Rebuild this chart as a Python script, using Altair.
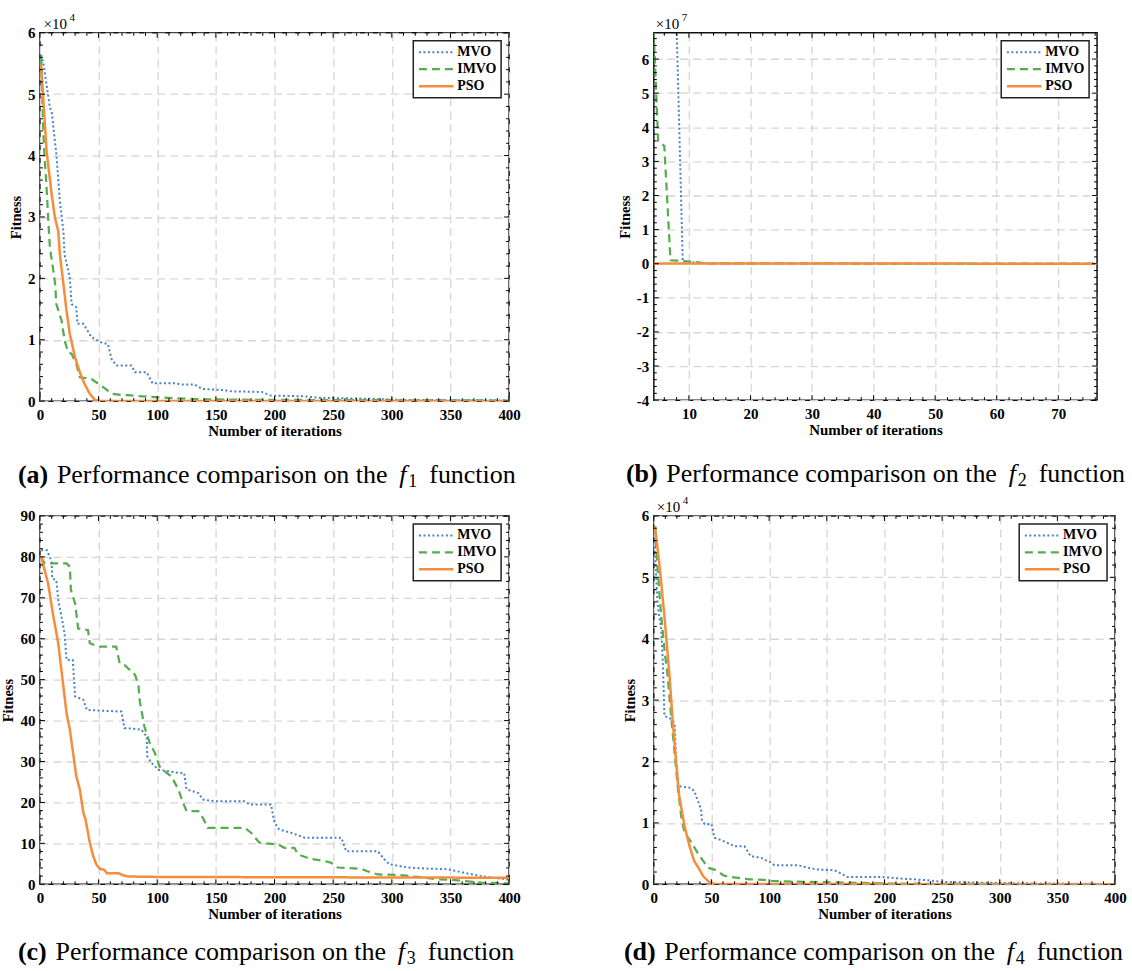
import altair as alt
import pandas as pd

FONT = "Liberation Serif"
NAMES = ["MVO", "IMVO", "PSO"]
COLORS = ["#4682c8", "#55ad4e", "#f68d3c"]
DASHES = [[2, 2.5], [8, 5], [1, 0]]
WIDTHS = [2, 2.5, 2.5]

# ---------------- panel (a): f1, fitness in units of 1e4 ----------------
MVO_A_IT = [1, 3, 8.5, 10, 14, 17, 20, 21, 25.5, 27, 31, 32, 37, 44, 52, 58, 61, 65, 78, 81,
            91, 96, 115, 122, 132, 138, 157, 163, 189, 197, 223, 240, 279, 299, 308, 400]
MVO_A = [5.64, 5.5, 4.78, 4.72, 4.02, 3.26, 2.77, 2.39, 2.01, 1.58, 1.53, 1.26, 1.26, 1.04, 0.96,
         0.93, 0.69, 0.58, 0.58, 0.47, 0.47, 0.29, 0.29, 0.27, 0.27, 0.2, 0.18, 0.16, 0.15, 0.09,
         0.08, 0.054, 0.04, 0.03, 0.02, 0.01]
IMVO_A_IT = [1, 3, 4, 5.5, 7, 8.5, 11, 13, 14, 18.5, 21, 24, 27, 31, 34, 44, 50, 53, 58, 62, 70,
             75, 84, 98, 109, 138, 194, 400]
IMVO_A = [5.6, 4.34, 3.96, 3.53, 2.99, 2.5, 2.18, 1.9, 1.58, 1.31, 0.99, 0.8, 0.77, 0.61, 0.39,
          0.36, 0.28, 0.24, 0.17, 0.12, 0.1, 0.1, 0.08, 0.065, 0.054, 0.03, 0.02, 0.01]
PSO_A_IT = [1, 3, 5.7, 10, 12.8, 15.6, 17, 20, 22.7, 25.5, 30, 34, 38, 42.5, 47, 51, 400]
PSO_A = [5.48, 4.88, 4.07, 3.37, 2.99, 2.77, 2.39, 1.91, 1.47, 1.09, 0.71, 0.47, 0.28, 0.12,
         0.02, 0.003, 0.0]

# ---------------- panel (b): f2, fitness in units of 1e7 ----------------
MVO_B_IT = [4, 8, 9, 10, 12, 14, 76]
MVO_B = [9.0, 6.9, 0.06, 0.05, 0.02, 0.005, 0.0]
IMVO_B_IT = [4, 5, 6, 7, 8, 9, 11, 13, 76]
IMVO_B = [8.0, 3.6, 3.45, 0.1, 0.09, 0.08, 0.05, 0.01, 0.0]
PSO_B_IT = [4, 76]
PSO_B = [0.01, 0.0]

# ---------------- panel (c): f3 ----------------
MVO_C_IT = [1, 6, 10, 10.5, 14, 15.6, 18.4, 21, 22.7, 28, 30, 37, 40, 69.5, 72, 86.5, 91, 91.5,
            95, 101, 119, 123, 125, 135, 139, 149, 174, 179, 197, 200, 204, 214, 225.5, 257, 261,
            288, 293.6, 298, 313.5, 333, 347.5, 362, 376, 400]
MVO_C = [81.6, 81.6, 78.8, 74.7, 74.3, 69.5, 65.4, 61.3, 54.8, 54.8, 45.9, 45.1, 42.6, 42.2, 38.2,
         37.8, 36.1, 31.3, 29.7, 28.0, 27.2, 27.2, 23.2, 22.3, 20.7, 20.3, 20.3, 19.5, 19.5, 15.0,
         13.4, 12.6, 11.4, 11.4, 8.1, 8.1, 6.1, 4.9, 4.1, 3.8, 3.7, 2.8, 2.0, 1.1]
IMVO_C_IT = [1, 4, 22.7, 25.5, 26.4, 30, 32.6, 41, 42.5, 49.6, 65, 68, 72, 81, 84, 85, 89, 93.6,
             98, 102, 108, 112, 118, 122, 125, 135, 139, 143, 174.5, 180, 187, 203, 208.5, 217,
             220, 228, 234, 242.5, 248, 254, 274, 279, 288, 305, 322, 339, 350, 362, 376, 400]
IMVO_C = [80, 78.4, 78.4, 77.6, 71.9, 68.6, 62.5, 62.1, 58.9, 58.1, 58.1, 54, 53.6, 51.2, 48.7,
          45, 38.6, 34.5, 32.1, 28.8, 27.2, 26.4, 23.2, 19.9, 17.9, 17.9, 16.2, 13.8, 13.8, 12.6,
          10.2, 9.7, 8.9, 8.9, 7.3, 6.5, 6.1, 5.7, 5.3, 4.1, 3.8, 3.2, 2.4, 2.3, 1.8, 1.2, 1.1,
          0.8, 0.4, 0.2]
PSO_C_IT = [1, 7, 11, 15.6, 20, 22.7, 25.5, 31, 34, 37, 38.9, 42.5, 45.4, 48, 51, 55, 57, 67, 71,
            75, 101, 400]
PSO_C = [80, 73.5, 66.2, 58.9, 48.3, 41.8, 37.8, 26.4, 23.2, 17.5, 15.8, 10.2, 6.9, 4.9, 3.8, 3.5,
         2.7, 2.7, 2.2, 1.9, 1.8, 1.6]

# ---------------- panel (d): f4, fitness in units of 1e4 ----------------
MVO_D_IT = [1, 2, 3.5, 6.4, 7.8, 9.2, 13.6, 18, 19.4, 21, 32, 35, 41, 41.5, 44, 50, 52.6, 61, 70,
            78.6, 84, 93, 102, 104.6, 125, 133.5, 142, 156.6, 168, 197, 217, 235, 249, 275, 318,
            400]
MVO_D = [5.5, 5.01, 4.53, 4.15, 3.6, 2.74, 2.71, 2.63, 1.98, 1.6, 1.57, 1.52, 1.22, 1.06, 0.98,
         0.98, 0.76, 0.7, 0.62, 0.62, 0.46, 0.43, 0.35, 0.31, 0.31, 0.27, 0.24, 0.23, 0.12, 0.12,
         0.09, 0.07, 0.04, 0.03, 0.016, 0.005]
IMVO_D_IT = [1, 3.5, 6.4, 9.2, 12, 15, 18, 21, 23.7, 26.6, 32, 38, 44, 47, 52.6, 61, 67, 78.6, 84,
             96, 102, 131, 160, 217, 400]
IMVO_D = [5.83, 5.07, 4.36, 3.82, 3.39, 2.74, 2.14, 1.54, 1.11, 0.84, 0.7, 0.51, 0.35, 0.27,
          0.24, 0.14, 0.12, 0.09, 0.08, 0.07, 0.054, 0.04, 0.03, 0.01, 0.0]
PSO_D_IT = [1, 5, 9.2, 13.6, 16.5, 19.4, 22, 26.6, 31, 35, 39.6, 42.5, 47, 52.6, 400]
PSO_D = [5.83, 5.18, 4.36, 3.39, 2.63, 1.98, 1.44, 0.95, 0.62, 0.38, 0.24, 0.14, 0.05, 0.005, 0.0]

# axis ticks
X400_MAJOR = [0, 50, 100, 150, 200, 250, 300, 350, 400]
X400_MINOR = [v for v in range(10, 400, 10) if v % 50]
XB_MAJOR = [10, 20, 30, 40, 50, 60, 70]
XB_MINOR = [v for v in range(6, 77, 2) if v % 10]
Y6_MAJOR = [0, 1, 2, 3, 4, 5, 6]
Y6_MINOR = [round(i * 0.2, 3) for i in range(1, 30) if i % 5]
YB_MAJOR = [-4, -3, -2, -1, 0, 1, 2, 3, 4, 5, 6]
YB_MINOR = [round(-4 + i * 0.2, 3) for i in range(1, 54) if i % 5]
Y90_MAJOR = [0, 10, 20, 30, 40, 50, 60, 70, 80, 90]
Y90_MINOR = [v for v in range(2, 90, 2) if v % 10]

ONE = pd.DataFrame({"k": [0]})


def txt(text, x, y, size, weight="normal", style="normal"):
    return alt.Chart(ONE).mark_text(
        text=text, align="left", baseline="alphabetic", fontSize=size,
        fontWeight=weight, fontStyle=style, font=FONT, color="black"
    ).encode(x=alt.value(x), y=alt.value(y))


LETTER_W = {"a": 500, "b": 556, "c": 444, "d": 556}


def panel(series, xdom, ydom, xmaj, xmin, ymaj, ymin, W, H, letter, sub, cap_dx, cap_dy,
          mult=None, mult_dx=3.7):
    rows = []
    for name, its, vals in series:
        for i, v in zip(its, vals):
            rows.append({"series": name, "it": i, "val": v})
    df = pd.DataFrame(rows)
    xs = alt.Scale(domain=xdom, nice=False, zero=False)
    ys = alt.Scale(domain=ydom, nice=False, zero=False)
    xaxis = alt.Axis(
        values=xmaj, grid=True, ticks=False, tickSize=0, domain=False,
        labelFlush=False, labelOverlap=False, labelPadding=6,
        labelFontSize=15, labelFontWeight="bold",
        title="Number of iterations", titleFontSize=15, titleFontWeight="bold",
        titlePadding=1)
    yaxis = alt.Axis(
        values=ymaj, grid=True, ticks=False, tickSize=0, domain=False,
        labelFlush=False, labelOverlap=False, labelPadding=5,
        labelFontSize=15, labelFontWeight="bold", labelExpr="'' + datum.value",
        title="Fitness", titleFontSize=14.5, titleFontWeight="bold", titlePadding=4)
    leg = alt.Legend(title=None, orient="top-right", offset=8, clipHeight=15)
    lines = alt.Chart(df).mark_line(clip=True).encode(
        x=alt.X("it:Q", scale=xs, axis=xaxis),
        y=alt.Y("val:Q", scale=ys, axis=yaxis),
        color=alt.Color("series:N", scale=alt.Scale(domain=NAMES, range=COLORS), legend=leg),
        strokeDash=alt.StrokeDash("series:N", scale=alt.Scale(domain=NAMES, range=DASHES),
                                  legend=leg),
        strokeWidth=alt.StrokeWidth("series:N", scale=alt.Scale(domain=NAMES, range=WIDTHS),
                                    legend=None),
    )
    layers = [lines]

    def xt(vals, top, L):
        d = pd.DataFrame({"it": vals})
        return alt.Chart(d).mark_rule(color="black", strokeWidth=1).encode(
            x=alt.X("it:Q", scale=xs, axis=xaxis),
            y=alt.value(0 if top else H), y2=alt.value(L if top else H - L))

    def yt(vals, right, L):
        d = pd.DataFrame({"val": vals})
        return alt.Chart(d).mark_rule(color="black", strokeWidth=1).encode(
            y=alt.Y("val:Q", scale=ys, axis=yaxis),
            x=alt.value(W if right else 0), x2=alt.value(W - L if right else L))

    for top in (False, True):
        layers.append(xt(xmaj, top, 5))
        layers.append(xt(xmin, top, 3))
    for right in (False, True):
        layers.append(yt(ymaj, right, 5))
        layers.append(yt(ymin, right, 3))

    if mult is not None:
        layers.append(txt("×10", mult_dx, -3.7, 15))
        layers.append(txt(mult, mult_dx + 26, -12, 11))

    lab_w = (666 + LETTER_W[letter]) * 26 / 1000
    main_x = cap_dx + lab_w + 8.7
    cy = H + cap_dy
    layers += [
        txt("(" + letter + ")", cap_dx, cy, 26, weight="bold"),
        txt("Performance comparison on the", main_x, cy, 26),
        txt("f", main_x + 343, cy, 26, style="italic"),
        txt(sub, main_x + 352, cy + 4, 18),
        txt("function", main_x + 373, cy, 26),
    ]
    return alt.layer(*layers).properties(width=W, height=H)


pa = panel([("MVO", MVO_A_IT, MVO_A), ("IMVO", IMVO_A_IT, IMVO_A), ("PSO", PSO_A_IT, PSO_A)],
           [0, 400], [0, 6], X400_MAJOR, X400_MINOR, Y6_MAJOR, Y6_MINOR, 470, 369,
           "a", "1", -22, 82, mult="4")
pb = panel([("MVO", MVO_B_IT, MVO_B), ("IMVO", IMVO_B_IT, IMVO_B), ("PSO", PSO_B_IT, PSO_B)],
           [4.3, 76.3], [-4, 6.77], XB_MAJOR, XB_MINOR, YB_MAJOR, YB_MINOR, 444, 368,
           "b", "2", -28, 82, mult="7", mult_dx=2)
pc = panel([("MVO", MVO_C_IT, MVO_C), ("IMVO", IMVO_C_IT, IMVO_C), ("PSO", PSO_C_IT, PSO_C)],
           [0, 400], [0, 90], X400_MAJOR, X400_MINOR, Y90_MAJOR, Y90_MINOR, 470, 369,
           "c", "3", -22, 76)
pd_ = panel([("MVO", MVO_D_IT, MVO_D), ("IMVO", IMVO_D_IT, IMVO_D), ("PSO", PSO_D_IT, PSO_D)],
            [0, 400], [0, 6], X400_MAJOR, X400_MINOR, Y6_MAJOR, Y6_MINOR, 462, 369,
            "d", "4", -30, 76, mult="4", mult_dx=3)

chart = alt.concat(
    pa, pb, pc, pd_, columns=2, bounds="flush",
    spacing={"row": 115, "column": 145},
).resolve_scale(
    color="independent", strokeDash="independent", strokeWidth="independent",
    x="independent", y="independent",
).properties(
    padding={"left": 0, "top": 10, "right": 5, "bottom": 5},
    background="white",
).configure_view(
    stroke="#111111", strokeWidth=1.5,
).configure_axis(
    labelFont=FONT, titleFont=FONT, labelColor="black", titleColor="black",
    gridColor="#d6d6d6", gridDash=[8, 5], gridWidth=1.3,
).configure_legend(
    labelFont=FONT, labelFontSize=14, labelFontWeight="bold", labelColor="black",
    symbolType="stroke", symbolSize=1200, symbolStrokeWidth=2.5, labelOffset=2,
    rowPadding=2, padding=4, strokeColor="#222222", strokeWidth=1.5, fillColor="white",
    labelLimit=200,
)

chart.save("out.html", embed_options={"renderer": "svg", "actions": False})
